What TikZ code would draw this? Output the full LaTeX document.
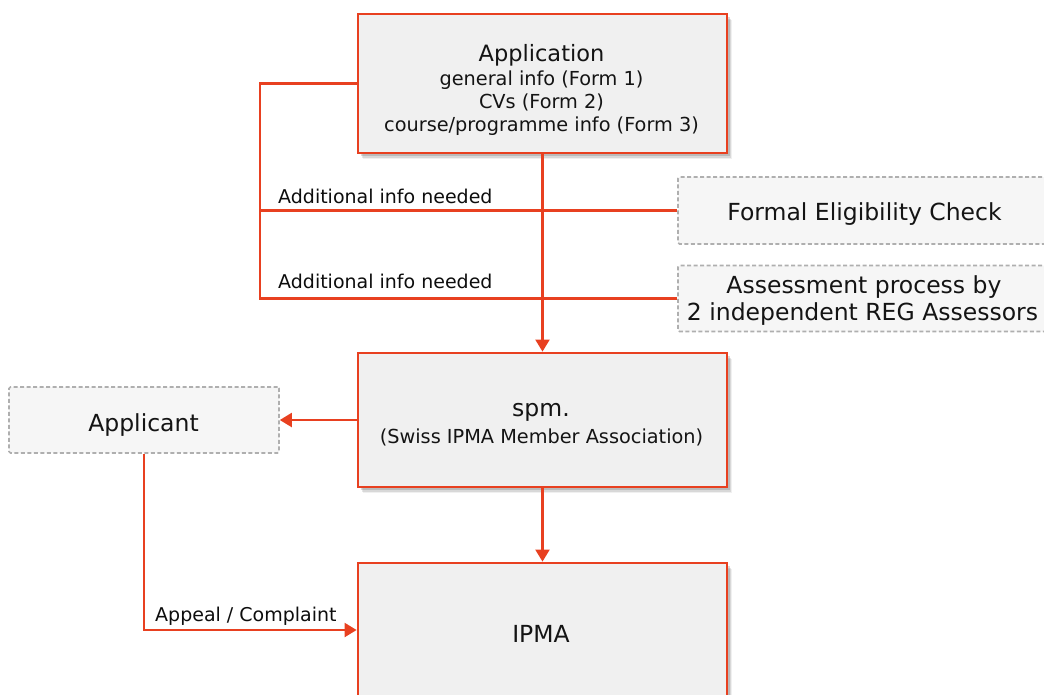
\documentclass[tikz,border=0pt]{standalone}
\usepackage{fontspec}
\setmainfont{DejaVu Sans}
\usetikzlibrary{arrows.meta,shadows}
\definecolor{ipred}{RGB}{232,64,32}
\definecolor{boxgray}{RGB}{240,240,240}
\definecolor{dashgray}{RGB}{175,175,175}
\definecolor{dashfill}{RGB}{246,246,246}
\newcommand\fBig{\fontsize{23.5}{27}\selectfont}
\newcommand\fApp{\fontsize{22.5}{27}\selectfont}
\newcommand\fMid{\fontsize{19.3}{23}\selectfont}
\newcommand\fLab{\fontsize{19}{22}\selectfont}
\tikzset{
  mainbox/.style={draw=ipred, line width=2.8pt, fill=boxgray, inner sep=0pt,
    drop shadow={shadow xshift=5pt, shadow yshift=-6pt, opacity=0.06, fill=black},
    drop shadow={shadow xshift=4pt, shadow yshift=-4.5pt, opacity=0.10, fill=black},
    drop shadow={shadow xshift=2.5pt, shadow yshift=-3pt, opacity=0.14, fill=black}},
  dashbox/.style={draw=dashgray, line width=1.6pt, dash pattern=on 4pt off 2.5pt,
    fill=dashfill, inner sep=0pt, rounded corners=1.5pt},
  txt/.style={anchor=base, inner sep=0pt, text=black!92},
  lab/.style={anchor=base west, inner sep=0pt, text=black!95, font=\fLab},
  conn/.style={draw=ipred, line width=2.1pt},
  arr/.style={conn, -{Triangle[length=12pt,width=14pt]}}
}
\begin{document}
\begin{tikzpicture}[x=1pt,y=-1pt]
\useasboundingbox (0,0) rectangle (1044,694);
\clip (0,0) rectangle (1044,694);
% boxes
\node[mainbox, minimum width=369pt, minimum height=139pt] (app) at (542.5,83.5) {};
\node[dashbox, minimum width=372pt, minimum height=67pt] (elig) at (864,210.5) {};
\node[dashbox, minimum width=372pt, minimum height=66pt] (assess) at (864,298.5) {};
\node[mainbox, minimum width=369pt, minimum height=134pt] (spm) at (542.5,420) {};
\node[dashbox, minimum width=270pt, minimum height=66pt] (applicant) at (144,420) {};
\node[mainbox, minimum width=369pt, minimum height=134pt] (ipma) at (542.5,630) {};
% texts
\node[txt, font=\fApp] (t1) at (541.5,61.7) {Application};
\node[txt, font=\fMid] (t2) at (541.5,85) {general info (Form 1)};
\node[txt, font=\fMid] (t3) at (541.5,108.5) {CVs (Form 2)};
\node[txt, font=\fMid] (t4) at (541.5,131.7) {course/programme info (Form 3)};
\node[txt, font=\fBig] (t5) at (864.5,220) {Formal Eligibility Check};
\node[txt, font=\fBig] (t6) at (864,293) {Assessment process by};
\node[txt, font=\fBig] (t7) at (862.5,320) {2 independent REG Assessors};
\node[txt, font=\fBig] (t8) at (541,416.7) {spm.};
\node[txt, font=\fMid] (t9) at (541.5,443) {(Swiss IPMA Member Association)};
\node[txt, font=\fBig] (t10) at (143.5,431) {Applicant};
\node[txt, font=\fBig] (t11) at (541,642) {IPMA};
% connectors
\coordinate (lx) at ([xshift=-97pt]app.west);
\draw[conn] (app.west) -- (lx) |- (assess.west);
\draw[conn] (lx |- elig.west) -- (elig.west);
\draw[arr] (app.south) -- (spm.north);
\draw[arr] (spm.west) -- (applicant.east);
\draw[arr] (spm.south) -- (ipma.north);
\draw[arr] (applicant.south) |- (ipma.west);
% labels
\node[lab] (l1) at (278,203.3) {Additional info needed};
\node[lab] (l2) at (278,288.5) {Additional info needed};
\node[lab] (l3) at (155,621.7) {Appeal / Complaint};
\end{tikzpicture}
\end{document}
